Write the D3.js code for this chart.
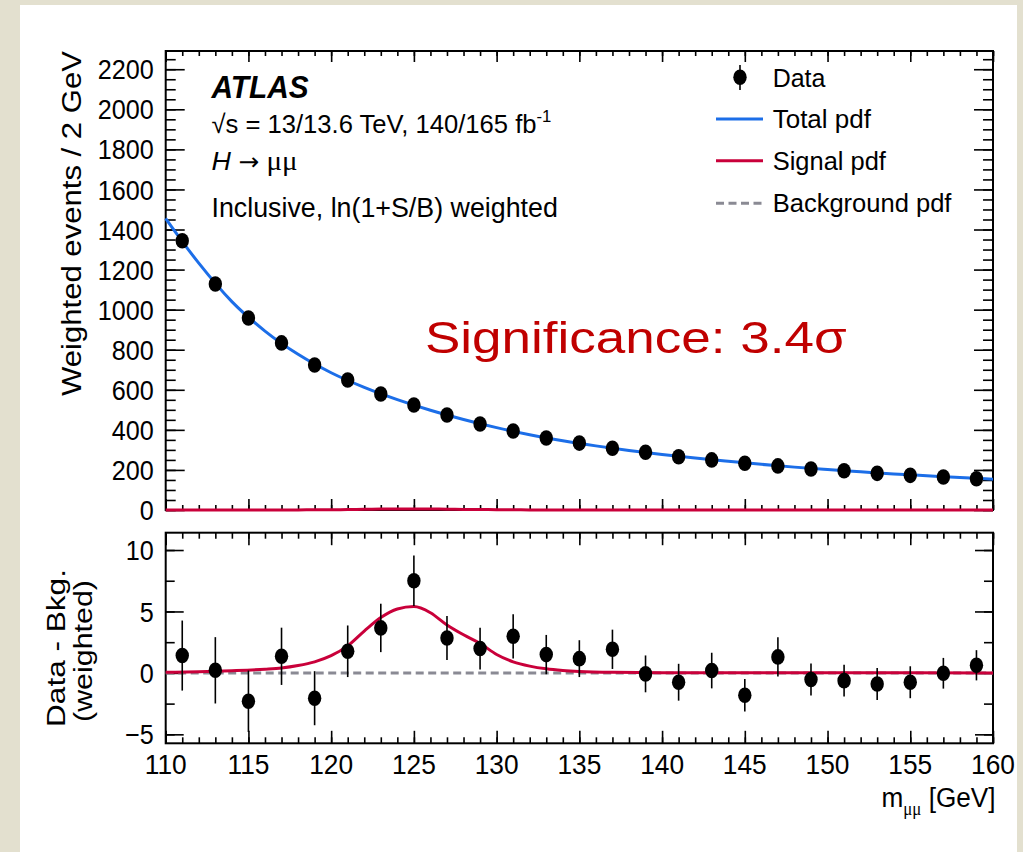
<!DOCTYPE html>
<html>
<head>
<meta charset="utf-8">
<script src="https://cdn.jsdelivr.net/npm/d3@7"></script>
<style>
body { margin: 0; background: #e3e0cf; }
svg { display: block; }
text { font-family: "Liberation Sans", Arial, Helvetica, sans-serif; fill: #000; }
.tick line { stroke: #000; stroke-width: 1.6; }
</style>
</head>
<body>
<svg class="visSVG"></svg>
<script>
const svgWidth = 1023;
const svgHeight = 852;

// bin centres (GeV) of the data points
const massBins = [111, 113, 115, 117, 119, 121, 123, 125, 127, 129, 131, 133, 135,
                  137, 139, 141, 143, 145, 147, 149, 151, 153, 155, 157, 159];
// weighted events / 2 GeV
const dataEvents = [1344, 1128, 958, 834, 724, 649, 579, 524, 474, 429, 394, 359, 334,
                    308, 288, 266, 250, 233, 220, 205, 196, 183, 173, 165, 156];
// data - background (weighted)
const dataMinusBkg = [1.41, 0.21, -2.31, 1.35, -2.06, 1.76, 3.66, 7.50, 2.84, 1.98, 2.98, 1.49, 1.16,
                      1.92, -0.08, -0.76, 0.19, -1.82, 1.30, -0.54, -0.63, -0.90, -0.76, -0.03, 0.62];
const dataErrors = [2.85, 2.7, 2.5, 2.33, 2.2, 2.1, 1.97, 2.05, 1.8, 1.7, 1.8, 1.6, 1.5,
                    1.6, 1.5, 1.5, 1.45, 1.33, 1.6, 1.3, 1.3, 1.3, 1.3, 1.25, 1.23];

// total pdf
const totalMass = [110, 112, 114, 116, 118, 120, 122, 124, 126, 128, 130, 132, 134,
                   136, 138, 140, 142, 144, 146, 148, 150, 152, 154, 156, 158, 160];
const totalPdf = [1455, 1232, 1040, 893, 777, 685, 612, 551, 498, 452, 411, 376, 346,
                  320, 297, 277, 259, 243, 228, 214, 202, 191, 180, 171, 162, 154];

// signal pdf
const signalMass = [110, 112, 114, 116, 117, 118, 119, 120, 121, 122, 123, 124, 125, 126,
                    127, 128, 129, 130, 131, 132, 133, 134, 135, 137, 140, 150, 160];
const signalPdf = [0.05, 0.1, 0.18, 0.3, 0.4, 0.6, 0.9, 1.4, 2.2, 3.4, 4.5, 5.2, 5.4, 4.9,
                   3.9, 3.1, 2.4, 1.5, 0.9, 0.55, 0.33, 0.2, 0.12, 0.05, 0.02, 0.01, 0];

const xTicks = [110, 115, 120, 125, 130, 135, 140, 145, 150, 155, 160];
const yTicksTop = [0, 200, 400, 600, 800, 1000, 1200, 1400, 1600, 1800, 2000, 2200];
const yTicksBottom = [-5, 0, 5, 10];
const legendLabels = ["Data", "Total pdf", "Signal pdf", "Background pdf"];

const blue = "#1c6ee8";
const red = "#c9003a";
const grey = "#8a8a94";

const svg = d3.select('.visSVG')
    .attr("width", svgWidth)
    .attr("height", svgHeight);

// white page
svg.append("rect")
    .attr("x", 20).attr("y", 5)
    .attr("width", 997).attr("height", 847)
    .attr("fill", "#fff");

var frameLeft = 165.7, frameRight = 993;
var top1 = 51, bot1 = 510;
var top2 = 532.7, bot2 = 743.3;

const x = d3.scaleLinear().domain([110, 160]).range([frameLeft, frameRight]);
const yTop = d3.scaleLinear().domain([0, 2291]).range([bot1, top1]);
const yBot = d3.scaleLinear().domain([-5.73, 11.41]).range([bot2, top2]);

const xMinor = d3.range(110, 161, 1);
const yMinorTop = d3.range(0, 2291, 50);
const yMinorBot = d3.range(-5, 11.5, 2.5);

// place text at (px,py) and squeeze/stretch it to the given width
function fitText(sel, px, py, width, rot) {
    var w = sel.node().getBBox().width;
    var s = width ? width / w : 1;
    sel.attr("transform", "translate(" + px + "," + py + ")" +
        (rot ? " rotate(" + rot + ")" : "") + " scale(" + s + ",1)");
    return sel;
}

function noDomain(g) { g.select(".domain").remove(); }

// ticks for one panel
function panelTicks(yScale, yTop0, yBot0, yMajor, yMinor, xLen, yLen) {
    var g = svg.append("g");
    [[d3.axisBottom, yBot0], [d3.axisTop, yTop0]].forEach(function (a) {
        g.append("g").attr("transform", "translate(0," + a[1] + ")")
            .call(a[0](x).tickValues(xTicks).tickSize(-xLen[0]).tickFormat("")).call(noDomain);
        g.append("g").attr("transform", "translate(0," + a[1] + ")")
            .call(a[0](x).tickValues(xMinor).tickSize(-xLen[1]).tickFormat("")).call(noDomain);
    });
    [[d3.axisLeft, frameLeft], [d3.axisRight, frameRight]].forEach(function (a) {
        g.append("g").attr("transform", "translate(" + a[1] + ",0)")
            .call(a[0](yScale).tickValues(yMajor).tickSize(-yLen[0]).tickFormat("")).call(noDomain);
        g.append("g").attr("transform", "translate(" + a[1] + ",0)")
            .call(a[0](yScale).tickValues(yMinor).tickSize(-yLen[1]).tickFormat("")).call(noDomain);
    });
    return g;
}

panelTicks(yTop, top1, bot1, yTicksTop, yMinorTop, [11, 5], [19, 10]);
panelTicks(yBot, top2, bot2, yTicksBottom, yMinorBot, [12.5, 6], [18, 9]);

// frames
[[top1, bot1], [top2, bot2]].forEach(function (p) {
    svg.append("rect")
        .attr("x", frameLeft).attr("y", p[0])
        .attr("width", frameRight - frameLeft).attr("height", p[1] - p[0])
        .attr("fill", "none").attr("stroke", "#000").attr("stroke-width", 2);
});

// tick labels
var tickFont = 28, tickSX = 0.9;
yTicksTop.forEach(function (v) {
    var t = svg.append("text").attr("font-size", tickFont).attr("text-anchor", "end")
        .attr("dy", "0.36em").text(v);
    t.attr("transform", "translate(" + (frameLeft - 12) + "," + yTop(v) + ") scale(" + tickSX + ",1)");
});
yTicksBottom.forEach(function (v) {
    var t = svg.append("text").attr("font-size", tickFont).attr("text-anchor", "end")
        .attr("dy", "0.36em").text(d3.format("")(v));
    t.attr("transform", "translate(" + (frameLeft - 12) + "," + yBot(v) + ") scale(" + tickSX + ",1)");
});
xTicks.forEach(function (v) {
    var t = svg.append("text").attr("font-size", tickFont).attr("text-anchor", "middle").text(v);
    t.attr("transform", "translate(" + x(v) + ",773.5) scale(0.94,1)");
});

// axis titles
var yTitle = svg.append("text").attr("font-size", 27).text("Weighted events / 2 GeV");
fitText(yTitle, 80.5, 396, 345, -90);

var yTitle2a = svg.append("text").attr("font-size", 26).attr("text-anchor", "middle").text("Data - Bkg.");
fitText(yTitle2a, 65, 648, 158, -90);
var yTitle2b = svg.append("text").attr("font-size", 26).attr("text-anchor", "middle").text("(weighted)");
fitText(yTitle2b, 91.5, 651, 142, -90);

var xTitle = svg.append("text").attr("font-size", 28).attr("text-anchor", "end");
xTitle.append("tspan").text("m");
xTitle.append("tspan").attr("font-size", 18).attr("dy", 8)
    .attr("font-family", "'Liberation Serif', serif").text("μμ");
xTitle.append("tspan").attr("dy", -8).text(" [GeV]");
fitText(xTitle, 995.5, 807, 114);

// ---- top panel curves ----
var lineTop = d3.line()
    .x(function (d) { return x(d[0]); })
    .y(function (d) { return yTop(d[1]); })
    .curve(d3.curveMonotoneX);

svg.append("path")
    .attr("d", lineTop(d3.zip(signalMass, signalPdf)))
    .attr("fill", "none").attr("stroke", red).attr("stroke-width", 3);

svg.append("path")
    .attr("d", lineTop(d3.zip(totalMass, totalPdf)))
    .attr("fill", "none").attr("stroke", blue).attr("stroke-width", 3);

// ---- bottom panel curves ----
svg.append("line")
    .attr("x1", x(110)).attr("x2", x(160))
    .attr("y1", yBot(0)).attr("y2", yBot(0))
    .attr("stroke", grey).attr("stroke-width", 3)
    .attr("stroke-dasharray", "8,4.5");

var lineBot = d3.line()
    .x(function (d) { return x(d[0]); })
    .y(function (d) { return yBot(d[1]); })
    .curve(d3.curveMonotoneX);

svg.append("path")
    .attr("d", lineBot(d3.zip(signalMass, signalPdf)))
    .attr("fill", "none").attr("stroke", red).attr("stroke-width", 3);

// ---- data points ----
var rx = 6.7, ry = 7.8;

function drawPoints(values, yScale) {
    var g = svg.append("g");
    var pts = d3.zip(massBins, values, dataErrors);
    g.selectAll("line").data(pts).enter().append("line")
        .attr("x1", function (d) { return x(d[0]); })
        .attr("x2", function (d) { return x(d[0]); })
        .attr("y1", function (d) { return yScale(d[1] - d[2]); })
        .attr("y2", function (d) { return yScale(d[1] + d[2]); })
        .attr("stroke", "#000").attr("stroke-width", 1.6);
    g.selectAll("ellipse").data(pts).enter().append("ellipse")
        .attr("cx", function (d) { return x(d[0]); })
        .attr("cy", function (d) { return yScale(d[1]); })
        .attr("rx", rx).attr("ry", ry)
        .attr("fill", "#000");
}
drawPoints(dataEvents, yTop);
drawPoints(dataMinusBkg, yBot);

// ---- labels ----
var atlas = svg.append("text").attr("font-size", 31).attr("font-weight", "bold")
    .attr("font-style", "italic").text("ATLAS");
fitText(atlas, 211.5, 98.3, 98.5);

var energy = svg.append("text").attr("font-size", 26);
energy.append("tspan").text("√s = 13/13.6 TeV, 140/165 fb");
energy.append("tspan").attr("font-size", 17).attr("dy", -11).text("-1");
fitText(energy, 211.5, 133.3, 340);

var decay = svg.append("text").attr("font-size", 26);
decay.append("tspan").attr("font-style", "italic").text("H ");
decay.append("tspan").attr("font-family", "'DejaVu Sans', sans-serif").attr("font-size", 24).text("→");
decay.append("tspan").attr("font-family", "'Liberation Serif', serif").attr("font-size", 28).text(" μμ");
fitText(decay, 211.5, 169.5, 86);

var incl = svg.append("text").attr("font-size", 27).text("Inclusive, ln(1+S/B) weighted");
fitText(incl, 211.5, 217, 346.5);

var signif = svg.append("text").attr("font-size", 45).attr("fill", "#c00000")
    .style("fill", "#c00000").text("Significance: 3.4σ");
fitText(signif, 425, 352.5, 422);

// ---- legend ----
var legendY = [86.7, 128.3, 170, 211.7];
var legendW = [53.3, 99, 114, 179.6];
var legendMarkY = [77.3, 119, 160.7, 203.3];

legendLabels.forEach(function (name, i) {
    var t = svg.append("text").attr("font-size", 26).text(name);
    fitText(t, 772.7, legendY[i], legendW[i]);
});

svg.append("line")
    .attr("x1", 740).attr("x2", 740).attr("y1", 65).attr("y2", 90)
    .attr("stroke", "#000").attr("stroke-width", 1.6);
svg.append("ellipse")
    .attr("cx", 740).attr("cy", legendMarkY[0]).attr("rx", rx).attr("ry", ry).attr("fill", "#000");

[[blue, null], [red, null], [grey, "8,4.5"]].forEach(function (s, i) {
    svg.append("line")
        .attr("x1", 716).attr("x2", 763)
        .attr("y1", legendMarkY[i + 1]).attr("y2", legendMarkY[i + 1])
        .attr("stroke", s[0]).attr("stroke-width", 3)
        .attr("stroke-dasharray", s[1]);
});
</script>
</body>
</html>
